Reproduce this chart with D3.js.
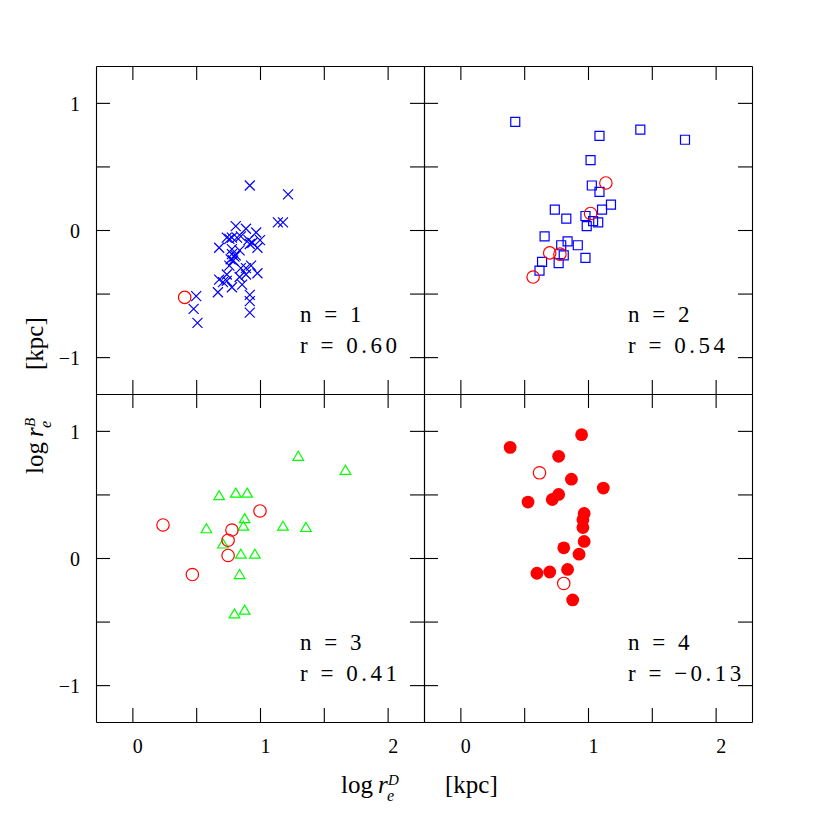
<!DOCTYPE html>
<html><head><meta charset="utf-8">
<script src="https://cdn.jsdelivr.net/npm/d3@7"></script>
<style>body{margin:0;background:#fff}svg{display:block}</style>
</head><body><svg id="c" width="817" height="817"></svg>
<script>
// ---- data ----
const xTicks = [0, 0.5, 1, 1.5, 2];
const yTicks = [-1, -0.5, 0, 0.5, 1];
const xTickLabels = [0, 1, 2];
const yTickLabels = [-1, 0, 1];
const panelN = [1, 2, 3, 4];
const panelR = ["0.60", "0.54", "0.41", "\u22120.13"];

const panel1Crosses = [
  [0.92,0.35],[1.22,0.28],[1.14,0.06],[1.18,0.06],[0.50,-0.52],[0.48,-0.62],[0.51,-0.73],
  [0.92,-0.65],[0.92,-0.56],[0.92,-0.51],[0.67,-0.49],[0.68,-0.39],[0.71,-0.41],[0.74,-0.40],
  [0.78,-0.45],[0.86,-0.43],[0.84,-0.37],[0.89,-0.35],[0.98,-0.34],[0.93,-0.28],[0.89,-0.30],
  [0.85,-0.30],[0.76,-0.28],[0.74,-0.35],[0.77,-0.23],[0.78,-0.19],[0.81,-0.20],[0.84,-0.16],
  [0.78,-0.15],[0.68,-0.14],[0.76,-0.07],[0.78,-0.06],[0.81,0.03],[0.82,-0.06],[0.85,-0.05],
  [0.89,0.01],[0.92,-0.11],[0.94,-0.10],[0.97,-0.02],[1.00,-0.08],[0.98,-0.14],[0.91,-0.08],
  [0.74,-0.06],[0.80,-0.21],[0.79,-0.24]
];
const panel1Circles = [[0.41,-0.53]];

const panel2Squares = [
  [0.43,0.85],[1.09,0.74],[1.41,0.79],[1.76,0.71],[1.02,0.55],[1.03,0.35],[1.09,0.30],
  [1.18,0.20],[1.11,0.16],[0.74,0.16],[0.83,0.09],[0.98,0.11],[0.99,0.03],[1.04,0.07],
  [1.08,0.06],[0.66,-0.05],[0.84,-0.09],[0.92,-0.12],[0.79,-0.12],[0.81,-0.20],[0.98,-0.22],
  [0.77,-0.26],[0.64,-0.25],[0.62,-0.32]
];
const panel2Circles = [[1.14,0.37],[1.02,0.13],[0.70,-0.18],[0.78,-0.19],[0.57,-0.37]];

const panel3Triangles = [
  [1.30,0.80],[1.67,0.69],[0.68,0.49],[0.81,0.51],[0.90,0.51],[0.88,0.31],[0.87,0.25],
  [0.58,0.23],[1.18,0.25],[1.36,0.24],[0.71,0.11],[0.85,0.03],[0.96,0.03],[0.84,-0.13],
  [0.80,-0.44],[0.88,-0.41]
];
const panel3Circles = [[0.24,0.26],[1.00,0.37],[0.78,0.22],[0.75,0.14],[0.75,0.02],[0.47,-0.13]];

const panel4Filled = [
  [0.95,0.97],[0.39,0.87],[0.77,0.80],[0.87,0.62],[1.12,0.55],[0.77,0.50],[0.72,0.46],
  [0.53,0.44],[0.97,0.35],[0.96,0.30],[0.96,0.24],[0.97,0.13],[0.81,0.08],[0.93,0.03],
  [0.84,-0.09],[0.70,-0.11],[0.60,-0.12],[0.88,-0.33]
];
const panel4Open = [[0.62,0.67],[0.81,-0.20]];

// ---- layout ----
const svg = d3.select("#c");
const font = "Liberation Serif, Times New Roman, serif";
const L = 96, M = 424, R = 752, T = 66, MY = 394, B = 722;
const xDomain = [-0.285, 2.285], yDomain = [-1.29, 1.29];
const colX = [d3.scaleLinear().domain(xDomain).range([L, M]),
              d3.scaleLinear().domain(xDomain).range([M, R])];
const rowY = [d3.scaleLinear().domain(yDomain).range([MY, T]),
              d3.scaleLinear().domain(yDomain).range([B, MY])];

const shapes = {
  cross: "M-5,-5L5,5M-5,5L5,-5",
  square: "M-4.5,-4.5H4.5V4.5H-4.5Z",
  triangle: "M0,-5L5.3,4L-5.3,4Z"
};

const panels = [
  {col:0,row:0,sets:[{data:panel1Crosses,shape:"cross",color:"#0000ff"},{data:panel1Circles,shape:"circle",color:"#ff0000"}]},
  {col:1,row:0,sets:[{data:panel2Squares,shape:"square",color:"#0000ff"},{data:panel2Circles,shape:"circle",color:"#ff0000"}]},
  {col:0,row:1,sets:[{data:panel3Triangles,shape:"triangle",color:"#00ff00"},{data:panel3Circles,shape:"circle",color:"#ff0000"}]},
  {col:1,row:1,sets:[{data:panel4Filled,shape:"disc",color:"#ff0000"},{data:panel4Open,shape:"circle",color:"#ff0000"}]}
];

const TS = 14;
const labFmt = d => d3.format("d")(d);

panels.forEach((p, i) => {
  const x = colX[p.col], y = rowY[p.row];
  const [x0, x1] = x.range(); const [y1, y0] = y.range();
  const g = svg.append("g");

  const bottom = d3.axisBottom(x).tickValues(xTicks).tickSize(-TS).tickSizeOuter(0).tickPadding(17)
    .tickFormat(d => (p.row === 1 && xTickLabels.includes(d)) ? labFmt(d) : "");
  const top = d3.axisTop(x).tickValues(xTicks).tickSize(-TS).tickSizeOuter(0).tickFormat("");
  const left = d3.axisLeft(y).tickValues(yTicks).tickSize(-TS).tickSizeOuter(0).tickPadding(16)
    .tickFormat(d => (p.col === 0 && yTickLabels.includes(d)) ? labFmt(d) : "");
  const right = d3.axisRight(y).tickValues(yTicks).tickSize(-TS).tickSizeOuter(0).tickFormat("");

  const gb = g.append("g").attr("transform", `translate(0,${y1})`).call(bottom);
  const gt = g.append("g").attr("transform", `translate(0,${y0})`).call(top);
  const gl = g.append("g").attr("transform", `translate(${x0},0)`).call(left);
  const gr = g.append("g").attr("transform", `translate(${x1},0)`).call(right);
  [gb, gt, gl, gr].forEach(a => {
    a.attr("font-family", null).attr("font-size", null);
    a.selectAll("path,line").attr("stroke", "#000").attr("stroke-width", 1.1);
    a.selectAll("text").style("font-family", font).style("font-size", "20px").attr("fill", "#000");
  });
  gb.selectAll("text").attr("dx", 5);
  gl.selectAll("text").attr("dy", "0.36em");

  p.sets.forEach(s => {
    if (s.shape === "circle" || s.shape === "disc") {
      g.append("g").selectAll("circle").data(s.data).join("circle")
        .attr("cx", d => x(d[0])).attr("cy", d => y(d[1]))
        .attr("r", s.shape === "disc" ? 6.4 : 6.2)
        .attr("fill", s.shape === "disc" ? s.color : "none")
        .attr("stroke", s.shape === "disc" ? "none" : s.color)
        .attr("stroke-width", 1.2);
    } else {
      g.append("g").selectAll("path").data(s.data).join("path")
        .attr("transform", d => `translate(${x(d[0])},${y(d[1])})`)
        .attr("d", shapes[s.shape])
        .attr("fill", "none").attr("stroke", s.color).attr("stroke-width", 1.2);
    }
  });

  [[`n = ${panelN[i]}`, 255.7], [`r = ${panelR[i]}`, 287.3]].forEach(([t, dy]) => {
    svg.append("text").attr("x", x0 + 204).attr("y", y0 + dy)
      .style("font-family", font).style("font-size", "23px").style("letter-spacing", "3.5px")
      .attr("fill", "#000").text(t);
  });
});

// axis titles (single text element each)
function title(transform, sup) {
  const t = svg.append("text").attr("transform", transform)
    .style("font-family", font).style("font-size", "25px").attr("fill", "#000");
  t.append("tspan").attr("x", 0).attr("y", 0).text("log");
  t.append("tspan").attr("x", 37).attr("y", 0).style("font-style", "italic").text("r");
  t.append("tspan").attr("x", 46).attr("y", 8).style("font-style", "italic").style("font-size", "16px").text("e");
  t.append("tspan").attr("x", 47).attr("y", -8).style("font-style", "italic").style("font-size", "15px").text(sup);
  t.append("tspan").attr("x", 104).attr("y", 0).text("[kpc]");
}
title("translate(341,793)", "D");
title("translate(43,474) rotate(-90)", "B");
</script></body></html>
